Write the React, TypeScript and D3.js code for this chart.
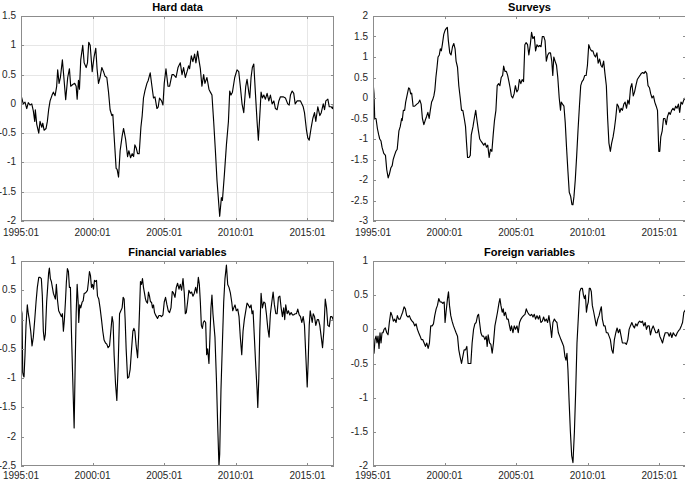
import React from "react";
import * as d3 from "d3";

// t = years since 1995:01, v = value
const hardData: [number, number][] = [
  [0.00,0.15],[0.16,0.0],[0.28,0.03],[0.40,-0.08],[0.51,0.02],[0.63,-0.02],[0.75,0.0],[0.86,-0.12],[0.96,-0.3],[1.00,-0.1],
  [1.10,-0.35],[1.24,-0.5],[1.33,-0.3],[1.45,-0.4],[1.52,-0.33],[1.61,-0.45],[1.75,-0.42],[1.84,-0.3],[1.93,-0.1],[2.03,0.05],
  [2.17,0.15],[2.26,0.2],[2.38,0.14],[2.49,0.3],[2.56,0.58],[2.66,0.35],[2.75,0.45],[2.89,0.75],[3.01,0.4],[3.12,0.07],
  [3.26,0.45],[3.38,0.6],[3.47,0.3],[3.61,0.33],[3.75,0.35],[3.85,0.3],[3.92,0.08],[4.01,0.4],[4.08,0.25],[4.17,0.75],
  [4.31,1.0],[4.41,0.7],[4.55,0.62],[4.64,0.7],[4.73,1.05],[4.83,1.0],[4.97,0.55],[5.10,0.8],[5.22,0.95],[5.31,0.6],
  [5.41,0.35],[5.52,0.45],[5.64,0.62],[5.76,0.55],[5.87,0.47],[5.99,0.45],[6.11,0.2],[6.22,-0.1],[6.34,-0.2],[6.41,-0.18],
  [6.50,-0.55],[6.64,-1.1],[6.71,-1.12],[6.81,-1.25],[6.92,-0.8],[7.06,-0.55],[7.16,-0.42],[7.30,-0.6],[7.44,-0.9],[7.53,-0.8],
  [7.65,-0.92],[7.76,-0.85],[7.86,-0.9],[7.95,-0.7],[8.04,-0.75],[8.14,-0.85],[8.25,-0.85],[8.37,-0.4],[8.46,-0.2],[8.55,0.1],
  [8.65,0.22],[8.79,0.35],[8.88,0.4],[9.02,0.53],[9.14,0.3],[9.25,0.1],[9.35,0.12],[9.49,-0.08],[9.58,-0.05],[9.67,0.1],
  [9.81,0.05],[9.91,-0.02],[10.00,0.35],[10.12,0.6],[10.26,0.3],[10.37,0.3],[10.54,0.5],[10.65,0.5],[10.82,0.45],[10.96,0.62],
  [11.12,0.7],[11.24,0.5],[11.35,0.62],[11.47,0.45],[11.59,0.55],[11.70,0.65],[11.77,0.6],[11.89,0.82],[12.00,0.72],[12.12,0.85],
  [12.21,0.7],[12.33,0.9],[12.42,0.75],[12.52,0.6],[12.63,0.3],[12.75,0.5],[12.84,0.35],[12.98,0.45],[13.12,0.25],[13.22,0.2],
  [13.33,0.15],[13.45,-0.3],[13.57,-0.8],[13.68,-1.3],[13.87,-1.92],[13.99,-1.6],[14.06,-1.65],[14.20,-1.2],[14.34,-0.7],[14.48,-0.3],
  [14.57,0.22],[14.66,0.15],[14.76,0.2],[14.92,0.45],[15.08,0.58],[15.20,0.55],[15.31,0.3],[15.43,0.0],[15.55,-0.15],[15.69,0.3],
  [15.78,0.42],[15.90,0.2],[15.97,0.1],[16.06,0.45],[16.15,0.62],[16.25,0.68],[16.36,0.2],[16.48,-0.3],[16.57,-0.62],[16.67,-0.2],
  [16.76,0.2],[16.85,0.1],[16.95,0.15],[17.06,0.08],[17.18,0.18],[17.30,0.05],[17.41,0.15],[17.53,0.0],[17.65,0.05],[17.76,-0.08],
  [17.88,-0.1],[18.00,0.05],[18.11,0.12],[18.30,0.12],[18.46,0.1],[18.62,0.0],[18.72,-0.02],[18.81,0.15],[18.93,0.22],[19.04,0.18],
  [19.14,0.0],[19.28,0.05],[19.51,0.05],[19.70,-0.05],[19.79,-0.15],[19.93,-0.45],[20.02,-0.58],[20.12,-0.62],[20.26,-0.4],[20.37,-0.25],
  [20.49,-0.15],[20.58,-0.3],[20.72,-0.05],[20.86,-0.2],[20.96,-0.15],[21.10,0.0],[21.19,-0.1],[21.28,0.05],[21.42,0.08],[21.52,-0.05],
  [21.66,-0.05],[21.75,-0.08],[21.89,0.05],
];

const surveysData: [number, number][] = [
  [0.00,0.4],[0.07,0.1],[0.12,-0.5],[0.21,-0.5],[0.31,-0.75],[0.40,-0.9],[0.47,-1.0],[0.56,-1.05],[0.63,-1.2],[0.75,-1.35],
  [0.87,-1.4],[0.96,-1.75],[1.06,-1.95],[1.15,-1.85],[1.25,-1.7],[1.34,-1.65],[1.41,-1.5],[1.50,-1.4],[1.60,-1.3],[1.69,-1.25],
  [1.81,-0.8],[1.90,-0.7],[2.00,-0.5],[2.04,-0.55],[2.12,-0.3],[2.21,-0.3],[2.28,-0.1],[2.40,0.1],[2.49,0.25],[2.56,0.22],
  [2.63,0.1],[2.70,0.12],[2.80,-0.2],[2.91,-0.2],[3.06,-0.15],[3.17,-0.12],[3.27,-0.05],[3.36,-0.15],[3.45,-0.5],[3.55,-0.65],
  [3.64,-0.55],[3.74,-0.45],[3.83,-0.35],[3.92,-0.5],[4.00,-0.3],[4.09,-0.1],[4.16,-0.05],[4.25,0.05],[4.32,0.2],[4.39,0.5],
  [4.47,0.75],[4.54,1.0],[4.63,1.05],[4.70,1.2],[4.77,1.15],[4.84,1.3],[4.94,1.55],[5.03,1.65],[5.12,1.7],[5.19,1.72],
  [5.26,1.4],[5.36,1.1],[5.45,1.05],[5.55,1.25],[5.64,1.33],[5.73,1.2],[5.80,0.9],[5.90,0.75],[5.99,0.3],[6.09,0.0],
  [6.18,-0.3],[6.27,-0.3],[6.37,-0.5],[6.46,-0.7],[6.53,-1.1],[6.60,-1.45],[6.70,-1.45],[6.79,-1.4],[6.86,-0.9],[6.98,-0.7],
  [7.07,-0.5],[7.17,-0.3],[7.26,-0.55],[7.36,-0.8],[7.45,-1.0],[7.54,-1.05],[7.64,-1.1],[7.73,-1.15],[7.83,-1.1],[7.92,-1.2],
  [8.01,-1.15],[8.11,-1.45],[8.20,-1.25],[8.30,-1.3],[8.39,-0.9],[8.48,-0.55],[8.58,-0.3],[8.67,0.3],[8.77,0.35],[8.86,0.3],
  [8.95,0.5],[9.05,0.55],[9.12,0.78],[9.21,0.65],[9.31,0.65],[9.40,0.55],[9.49,0.4],[9.57,0.25],[9.66,0.05],[9.75,0.0],
  [9.85,0.1],[9.94,0.3],[10.04,0.15],[10.13,0.2],[10.22,0.45],[10.32,0.35],[10.41,0.45],[10.51,0.4],[10.60,1.3],[10.69,1.35],
  [10.79,1.3],[10.88,1.05],[10.98,1.3],[11.07,1.6],[11.16,1.45],[11.26,1.5],[11.35,1.15],[11.45,1.3],[11.54,1.25],[11.63,1.28],
  [11.73,1.25],[11.82,1.5],[11.92,1.5],[12.01,1.4],[12.10,0.9],[12.20,1.05],[12.29,1.1],[12.39,1.1],[12.48,0.9],[12.55,0.55],
  [12.62,1.0],[12.71,0.9],[12.81,0.8],[12.90,0.5],[13.00,0.0],[13.09,-0.3],[13.14,-0.1],[13.23,-0.15],[13.33,-0.2],[13.42,-0.6],
  [13.51,-1.2],[13.61,-1.8],[13.70,-2.3],[13.80,-2.4],[13.89,-2.6],[13.96,-2.6],[14.03,-2.4],[14.12,-2.0],[14.22,-1.4],[14.31,-0.8],
  [14.41,-0.2],[14.50,0.3],[14.59,0.4],[14.69,0.45],[14.78,0.55],[14.88,0.55],[14.97,0.8],[15.06,1.3],[15.16,1.2],[15.25,1.15],
  [15.35,1.15],[15.44,1.05],[15.53,1.0],[15.63,1.1],[15.72,0.85],[15.82,0.95],[15.91,0.8],[16.00,0.75],[16.10,0.9],[16.19,0.6],
  [16.29,0.3],[16.38,-0.5],[16.47,-1.1],[16.57,-1.3],[16.66,-1.1],[16.76,-0.95],[16.85,-0.75],[16.94,-0.5],[17.04,-0.15],[17.13,-0.2],
  [17.23,-0.35],[17.32,-0.25],[17.41,-0.3],[17.51,-0.15],[17.60,-0.1],[17.70,-0.25],[17.79,-0.05],[17.88,-0.15],[17.98,0.25],[18.07,0.35],
  [18.17,0.05],[18.26,0.15],[18.35,0.3],[18.45,0.45],[18.54,0.5],[18.64,0.55],[18.73,0.6],[18.82,0.62],[18.92,0.6],[19.01,0.65],
  [19.11,0.6],[19.20,0.3],[19.30,0.25],[19.39,0.1],[19.48,0.0],[19.58,0.05],[19.67,-0.1],[19.77,-0.2],[19.86,-0.3],[19.95,-1.3],
  [20.02,-1.3],[20.09,-0.95],[20.19,-0.8],[20.28,-0.5],[20.38,-0.5],[20.47,-0.65],[20.56,-0.45],[20.66,-0.35],[20.75,-0.4],[20.85,-0.3],
  [20.94,-0.25],[21.03,-0.3],[21.13,-0.2],[21.22,-0.25],[21.32,-0.15],[21.41,-0.35],[21.50,-0.1],[21.60,-0.15],[21.69,-0.05],[21.79,0.0],
  [21.88,-0.05],
];

const financialData: [number, number][] = [
  [0.00,0.2],[0.07,0.1],[0.12,-0.9],[0.16,-0.95],[0.21,-0.98],[0.28,-0.6],[0.35,-0.1],[0.44,0.25],[0.51,0.1],[0.58,0.0],
  [0.68,-0.2],[0.77,-0.45],[0.86,-0.3],[0.96,0.0],[1.05,0.3],[1.14,0.55],[1.24,0.72],[1.33,0.72],[1.42,0.7],[1.49,0.4],
  [1.56,-0.2],[1.63,-0.35],[1.70,-0.25],[1.79,0.3],[1.86,0.55],[1.93,0.8],[1.98,0.88],[2.05,0.7],[2.12,0.65],[2.19,0.55],
  [2.26,0.45],[2.33,0.4],[2.40,0.35],[2.47,0.6],[2.54,0.35],[2.63,0.15],[2.73,0.1],[2.82,0.05],[2.89,0.1],[2.96,-0.2],
  [3.03,0.0],[3.10,0.3],[3.17,0.65],[3.24,0.87],[3.31,0.82],[3.38,0.55],[3.45,0.55],[3.52,-0.2],[3.61,-1.0],[3.71,-1.85],
  [3.78,-0.8],[3.85,0.1],[3.92,0.6],[3.99,0.3],[4.03,-0.05],[4.10,0.25],[4.17,0.2],[4.27,0.3],[4.34,0.32],[4.41,0.45],
  [4.48,0.45],[4.55,0.47],[4.64,0.5],[4.71,0.65],[4.78,0.82],[4.85,0.75],[4.92,0.55],[4.99,0.6],[5.06,0.52],[5.13,0.67],
  [5.20,0.65],[5.27,0.67],[5.34,0.4],[5.43,0.35],[5.52,0.2],[5.62,0.0],[5.71,-0.2],[5.80,-0.35],[5.90,-0.4],[5.99,-0.42],
  [6.08,-0.48],[6.18,-0.45],[6.27,-0.2],[6.36,0.05],[6.43,-0.05],[6.50,-0.6],[6.60,-1.1],[6.69,-1.38],[6.78,-0.8],[6.88,0.1],
  [6.97,0.15],[7.06,0.2],[7.13,0.38],[7.20,0.35],[7.27,0.0],[7.34,-0.5],[7.44,-1.0],[7.53,-0.98],[7.62,-0.85],[7.72,-0.5],
  [7.81,-0.2],[7.88,-0.15],[7.95,-0.2],[8.04,-0.45],[8.14,-0.65],[8.21,-0.3],[8.28,0.2],[8.34,0.65],[8.41,0.6],[8.48,0.7],
  [8.55,0.55],[8.62,0.45],[8.69,0.35],[8.76,0.3],[8.83,0.28],[8.90,0.47],[8.97,0.4],[9.04,0.3],[9.11,0.3],[9.18,0.2],
  [9.25,0.25],[9.32,0.12],[9.39,0.08],[9.46,0.05],[9.53,0.02],[9.63,0.07],[9.72,0.07],[9.81,0.05],[9.91,0.08],[10.00,0.3],
  [10.09,0.38],[10.19,0.25],[10.28,0.15],[10.37,0.12],[10.47,0.2],[10.56,0.48],[10.65,0.45],[10.75,0.38],[10.84,0.55],[10.93,0.62],
  [11.03,0.52],[11.12,0.6],[11.21,0.5],[11.31,0.7],[11.40,0.45],[11.47,0.1],[11.54,0.12],[11.63,0.3],[11.72,0.5],[11.82,0.45],
  [11.91,0.47],[12.00,0.4],[12.10,0.45],[12.19,0.55],[12.28,0.45],[12.38,0.72],[12.45,0.6],[12.52,0.3],[12.59,-0.1],[12.66,-0.15],
  [12.73,-0.05],[12.80,-0.02],[12.89,-0.05],[12.96,-0.6],[13.03,-0.5],[13.12,-0.75],[13.19,-0.3],[13.26,0.2],[13.33,0.42],[13.40,0.1],
  [13.47,-0.1],[13.54,-0.3],[13.64,-1.0],[13.73,-1.8],[13.82,-2.5],[13.87,-2.3],[13.96,-1.2],[14.06,-0.4],[14.15,0.3],[14.24,0.7],
  [14.34,0.93],[14.43,0.6],[14.52,0.55],[14.62,0.45],[14.71,0.3],[14.78,0.15],[14.85,0.2],[14.94,0.25],[15.03,0.15],[15.13,0.18],
  [15.22,0.05],[15.31,-0.3],[15.41,-0.6],[15.50,-0.2],[15.59,0.0],[15.69,0.15],[15.78,0.28],[15.87,0.25],[15.97,0.2],[16.06,0.25],
  [16.13,0.1],[16.20,0.15],[16.29,-0.3],[16.39,-0.8],[16.48,-1.2],[16.53,-1.5],[16.60,-1.0],[16.67,-0.2],[16.76,0.45],[16.85,0.2],
  [16.95,0.3],[17.04,0.28],[17.13,0.1],[17.23,-0.15],[17.32,-0.3],[17.41,0.1],[17.51,0.3],[17.60,0.47],[17.69,0.25],[17.79,0.1],
  [17.88,0.1],[17.97,0.38],[18.07,0.4],[18.16,0.2],[18.25,0.05],[18.34,0.2],[18.41,0.0],[18.48,0.25],[18.58,0.1],[18.67,0.15],
  [18.76,0.08],[18.86,0.12],[18.95,0.08],[19.04,0.08],[19.14,0.1],[19.23,0.1],[19.32,0.18],[19.42,0.08],[19.51,0.05],[19.60,-0.05],
  [19.70,0.05],[19.79,-0.1],[19.88,-0.6],[19.98,-1.15],[20.05,-0.7],[20.12,-0.1],[20.19,0.15],[20.26,0.05],[20.33,-0.05],[20.40,0.1],
  [20.49,0.05],[20.58,-0.1],[20.68,0.0],[20.77,0.0],[20.86,-0.1],[20.96,-0.3],[21.05,-0.48],[21.14,-0.2],[21.24,0.35],[21.33,0.2],
  [21.42,-0.1],[21.52,-0.12],[21.61,0.05],[21.70,0.05],[21.79,0.0],[21.89,0.25],
];

const foreignData: [number, number][] = [
  [0.00,-0.2],[0.07,-0.35],[0.14,-0.15],[0.21,-0.1],[0.28,-0.2],[0.35,-0.1],[0.42,-0.28],[0.49,-0.05],[0.56,-0.2],[0.63,-0.05],
  [0.70,-0.05],[0.77,0.0],[0.86,0.02],[0.96,-0.05],[1.05,-0.08],[1.14,0.1],[1.24,0.25],[1.33,0.2],[1.42,0.12],[1.52,0.15],
  [1.61,0.1],[1.70,0.2],[1.79,0.15],[1.89,0.15],[1.98,0.2],[2.07,0.25],[2.17,0.33],[2.26,0.3],[2.35,0.2],[2.45,0.18],
  [2.54,0.2],[2.63,0.15],[2.73,0.12],[2.82,0.1],[2.91,0.05],[3.01,0.08],[3.10,0.0],[3.19,-0.05],[3.29,-0.1],[3.38,-0.15],
  [3.47,-0.15],[3.57,-0.2],[3.66,-0.25],[3.75,-0.2],[3.85,-0.28],[3.94,-0.2],[4.03,0.05],[4.13,0.05],[4.22,0.08],[4.31,0.2],
  [4.41,0.3],[4.50,0.35],[4.59,0.45],[4.69,0.4],[4.78,0.4],[4.87,0.38],[4.97,0.4],[5.03,0.1],[5.10,0.25],[5.20,0.45],
  [5.27,0.55],[5.34,0.35],[5.43,0.2],[5.52,0.12],[5.62,0.05],[5.71,0.0],[5.80,-0.05],[5.90,-0.1],[5.99,-0.3],[6.08,-0.4],
  [6.18,-0.5],[6.27,-0.4],[6.36,-0.3],[6.46,-0.3],[6.55,-0.25],[6.64,-0.5],[6.74,-0.5],[6.83,-0.5],[6.92,-0.2],[7.02,0.0],
  [7.11,0.08],[7.20,0.1],[7.30,0.2],[7.37,0.22],[7.44,0.1],[7.53,-0.05],[7.62,-0.1],[7.72,-0.1],[7.81,-0.15],[7.90,-0.1],
  [7.97,-0.25],[8.04,-0.08],[8.14,-0.2],[8.23,-0.22],[8.32,-0.35],[8.41,-0.2],[8.51,0.05],[8.60,0.15],[8.69,0.25],[8.79,0.38],
  [8.86,0.45],[8.93,0.35],[9.02,0.25],[9.09,0.3],[9.16,0.2],[9.25,0.25],[9.35,0.15],[9.44,0.15],[9.53,0.05],[9.60,-0.02],
  [9.67,0.05],[9.77,-0.05],[9.86,0.05],[9.95,0.0],[10.05,0.05],[10.14,-0.05],[10.23,0.1],[10.33,0.15],[10.42,0.18],[10.51,0.2],
  [10.61,0.22],[10.70,0.3],[10.79,0.25],[10.89,0.22],[10.98,0.2],[11.07,0.22],[11.17,0.18],[11.26,0.22],[11.35,0.15],[11.45,0.2],
  [11.54,0.15],[11.63,0.2],[11.72,0.1],[11.82,0.12],[11.91,0.18],[12.00,0.12],[12.10,0.15],[12.19,0.1],[12.28,0.2],[12.38,0.05],
  [12.47,-0.12],[12.56,0.1],[12.66,0.15],[12.75,0.12],[12.84,0.1],[12.94,-0.05],[13.03,-0.1],[13.12,-0.15],[13.22,-0.2],[13.31,-0.25],
  [13.40,-0.4],[13.47,-0.45],[13.54,-0.35],[13.61,-0.6],[13.68,-1.0],[13.78,-1.5],[13.87,-1.85],[13.96,-1.95],[14.06,-1.5],[14.15,-0.9],
  [14.24,-0.2],[14.34,0.2],[14.43,0.55],[14.52,0.6],[14.62,0.6],[14.69,0.5],[14.76,0.45],[14.83,0.5],[14.90,0.25],[14.97,0.35],
  [15.03,0.4],[15.10,0.6],[15.17,0.6],[15.24,0.55],[15.31,0.35],[15.41,0.25],[15.50,0.15],[15.59,0.05],[15.69,0.15],[15.78,0.2],
  [15.87,0.28],[15.94,0.33],[16.01,0.15],[16.11,0.05],[16.20,0.05],[16.29,-0.05],[16.39,-0.05],[16.48,-0.1],[16.57,-0.15],[16.67,-0.3],
  [16.76,-0.35],[16.85,-0.15],[16.95,-0.05],[17.04,0.02],[17.13,-0.05],[17.23,0.0],[17.32,-0.1],[17.41,-0.2],[17.51,-0.2],[17.60,-0.2],
  [17.69,-0.22],[17.79,-0.15],[17.88,0.0],[17.97,0.05],[18.07,0.1],[18.16,0.05],[18.25,0.02],[18.34,0.08],[18.44,0.05],[18.53,0.1],
  [18.62,0.12],[18.72,0.1],[18.81,0.12],[18.90,0.05],[19.00,0.1],[19.09,0.0],[19.18,0.05],[19.28,0.05],[19.37,-0.08],[19.46,0.0],
  [19.56,0.05],[19.65,0.0],[19.74,-0.05],[19.84,-0.05],[19.93,0.0],[20.02,-0.1],[20.12,-0.15],[20.21,-0.2],[20.30,-0.12],[20.40,-0.05],
  [20.49,-0.05],[20.58,-0.05],[20.68,-0.1],[20.77,-0.05],[20.86,-0.12],[20.96,-0.05],[21.05,-0.08],[21.14,-0.1],[21.24,-0.05],[21.33,-0.02],
  [21.42,0.0],[21.52,0.05],[21.61,0.1],[21.70,0.25],[21.79,0.28],[21.86,0.2],
];

const xTickYears = [0, 5, 10, 15, 20];
const xTickLabels = ["1995:01", "2000:01", "2005:01", "2010:01", "2015:01"];
const hardTicks = [-2, -1.5, -1, -0.5, 0, 0.5, 1, 1.5];
const surveysTicks = [-3, -2.5, -2, -1.5, -1, -0.5, 0, 0.5, 1, 1.5, 2];
const financialTicks = [-2.5, -2, -1.5, -1, -0.5, 0, 0.5, 1];
const foreignTicks = [-2, -1.5, -1, -0.5, 0, 0.5, 1];

const W = 685;
const H = 483;
const PW = 313;
const PH = 205;
const FONT = "'Liberation Sans', Arial, Helvetica, sans-serif";
const AXIS = "#8c8c8c";

interface PanelProps {
  id: string;
  title: string;
  data: [number, number][];
  yTicks: number[];
  left: number;
  top: number;
  labelGap: number;
  grid?: boolean;
}

const Panel = ({ id, title, data, yTicks, left, top, labelGap, grid }: PanelProps) => {
  const x = d3.scaleLinear().domain([0, 21.85]).range([0, PW]);
  const y = d3
    .scaleLinear()
    .domain([yTicks[0], yTicks[yTicks.length - 1]])
    .range([PH, 0]);
  const line = d3
    .line<[number, number]>()
    .x((d) => x(d[0]))
    .y((d) => y(d[1]));
  const tl = 3;

  return (
    <g transform={`translate(${left},${top})`}>
      <defs>
        <clipPath id={id}>
          <rect x={0} y={0} width={PW} height={PH} />
        </clipPath>
      </defs>
      <rect x={0} y={0} width={PW} height={PH} fill="#fff" />
      {grid &&
        xTickYears.map((t) => (
          <line key={"gx" + t} x1={Math.round(x(t)) + 0.5} x2={Math.round(x(t)) + 0.5} y1={0} y2={PH} stroke="#e6e6e6" />
        ))}
      {grid &&
        yTicks.map((v) => (
          <line key={"gy" + v} x1={0} x2={PW} y1={Math.round(y(v)) + 0.5} y2={Math.round(y(v)) + 0.5} stroke="#e6e6e6" />
        ))}
      <path d={line(data) || ""} fill="none" stroke="#000" strokeWidth={1.15} strokeLinejoin="round" clipPath={`url(#${id})`} />
      <rect x={0.5} y={0.5} width={PW - 1} height={PH - 1} fill="none" stroke={AXIS} />
      {xTickYears.map((t) => {
        const px = Math.round(x(t)) + 0.5;
        return (
          <g key={"xt" + t}>
            <line x1={px} x2={px} y1={PH} y2={PH - tl} stroke={AXIS} />
            <line x1={px} x2={px} y1={0} y2={tl} stroke={AXIS} />
          </g>
        );
      })}
      {yTicks.map((v) => {
        const py = Math.round(y(v)) + 0.5;
        return (
          <g key={"yt" + v}>
            <line x1={0} x2={tl} y1={py} y2={py} stroke={AXIS} />
            <line x1={PW} x2={PW - tl} y1={py} y2={py} stroke={AXIS} />
            <text x={-5} y={y(v) + 3} textAnchor="end" fontSize={10} fill="#262626" fontFamily={FONT}>
              {String(v)}
            </text>
          </g>
        );
      })}
      {xTickYears.map((t, i) => (
        <text key={"xl" + t} x={x(t)} y={PH + labelGap} textAnchor="middle" fontSize={10} fill="#262626" fontFamily={FONT}>
          {xTickLabels[i]}
        </text>
      ))}
      <text x={PW / 2} y={-5} textAnchor="middle" fontSize={11} fontWeight="bold" fill="#000" fontFamily={FONT}>
        {title}
      </text>
    </g>
  );
};

const App = () => {
  return (
    <svg width={W} height={H} style={{ position: "absolute", left: 0, top: 0, background: "#fff" }}>
      <rect width={W} height={H} fill="#fff" />
      <Panel id="c1" title="Hard data" data={hardData} yTicks={hardTicks} left={21} top={16} labelGap={15} grid />
      <Panel id="c2" title="Surveys" data={surveysData} yTicks={surveysTicks} left={373} top={16} labelGap={15} />
      <Panel id="c3" title="Financial variables" data={financialData} yTicks={financialTicks} left={21} top={261} labelGap={13} />
      <Panel id="c4" title="Foreign variables" data={foreignData} yTicks={foreignTicks} left={373} top={261} labelGap={13} />
    </svg>
  );
};

export default App;
